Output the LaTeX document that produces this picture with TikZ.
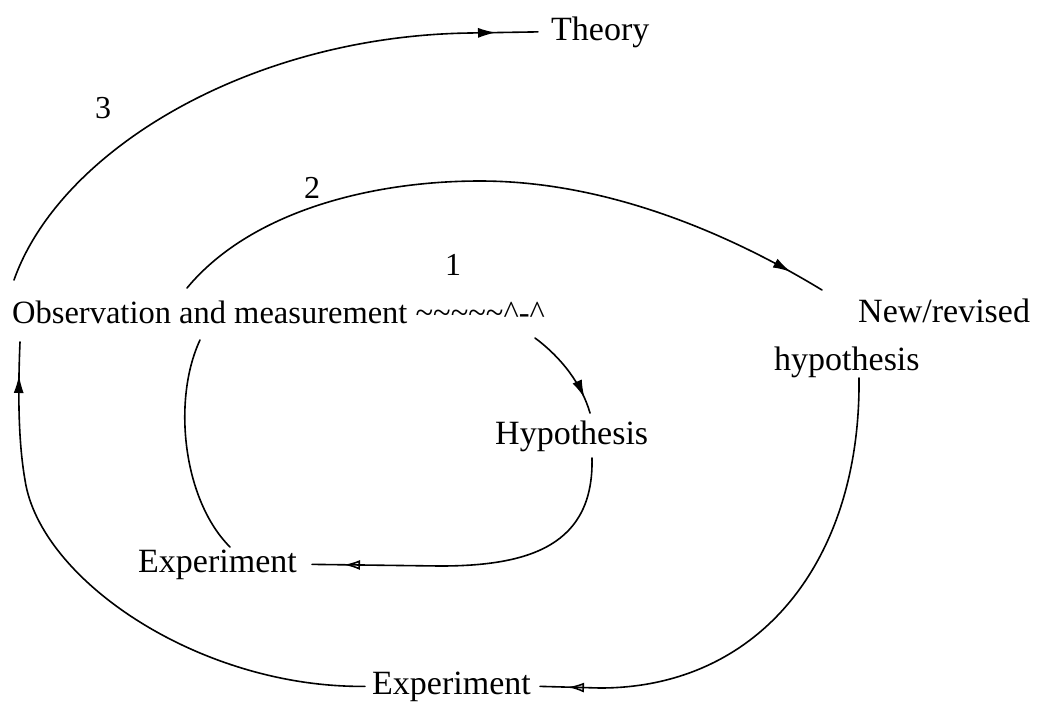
\documentclass[tikz,border=0pt]{standalone}
\usepackage{fontspec}
\setmainfont{Liberation Serif}
\usetikzlibrary{arrows.meta,decorations.markings}
\begin{document}
\begin{tikzpicture}[x=1pt,y=-1pt,
  lbl/.style={inner sep=0pt, anchor=base west, font=\fontsize{34}{40}\selectfont},
  num/.style={inner sep=0pt, font=\fontsize{32}{38}\selectfont},
  link/.style={line width=1.6pt, line cap=round},
  tipat/.style={postaction={decorate}, decoration={markings, mark=at position #1 with {\arrow{Latex[length=18pt,width=10pt]}}}},
  opentipat/.style={postaction={decorate}, decoration={markings, mark=at position #1 with {\arrow{Latex[open,length=16pt,width=10pt,line width=1.6pt]}}}},
]
\useasboundingbox (0,0) rectangle (1046,702);
% labels
\node[lbl, font=\fontsize{32.5}{38}\selectfont] (obs) at (12,323) {Observation and measurement \textasciitilde\textasciitilde\textasciitilde\textasciitilde\textasciitilde\textasciicircum-\textasciicircum};
\node[lbl] (theory) at (551,40) {Theory};
\node[lbl] (newrev) at (858,322) {New/revised};
\node[lbl] (newhyp) at (774,370) {hypothesis};
\node[lbl] (hyp) at (495,444) {Hypothesis};
\node[lbl] (exp1) at (138,572) {Experiment};
\node[lbl] (exp2) at (372,694) {Experiment};
\node[num] (n3) at (103,108) {3};
\node[num] (n2) at (312,188) {2};
\node[num] (n1) at (453,265) {1};
% free ends
\coordinate (a1s) at (535,338);
\coordinate (a1e) at (590,413);
\coordinate (bs) at (592,458);
\coordinate (cs) at (230,547);
\coordinate (ce) at (200,340);
\coordinate (ds) at (187,288);
\coordinate (de) at (822,290);
\coordinate (es) at (859,378);
\coordinate (fe) at (20,342);
\coordinate (gs) at (14,280);
% connectors
\draw[link, tipat=-16pt] (a1s) .. controls (562,358) and (582,385) .. (a1e);
\draw[link, opentipat=-32pt] (bs) .. controls (594,545) and (530,566) .. (440,566) -- ([xshift=15pt]exp1.east);
\draw[link] (cs) .. controls (183,500) and (172,400) .. (ce);
\draw[link, tipat=-36pt] (ds) .. controls (250,212) and (370,181) .. (480,181) .. controls (600,181) and (720,228) .. (de);
\draw[link, opentipat=-28pt] (es) .. controls (861,560) and (760,688) .. (600,688) -- ([xshift=9pt]exp2.east);
\draw[link, tipat=-33pt] ([xshift=-7pt]exp2.west) .. controls (200,688) and (40,580) .. (25,480) .. controls (18,440) and (18,390) .. (fe);
\draw[link, tipat=-42pt] (gs) .. controls (60,150) and (250,36) .. (470,33) -- ([xshift=-13pt]theory.west);
\end{tikzpicture}
\end{document}
